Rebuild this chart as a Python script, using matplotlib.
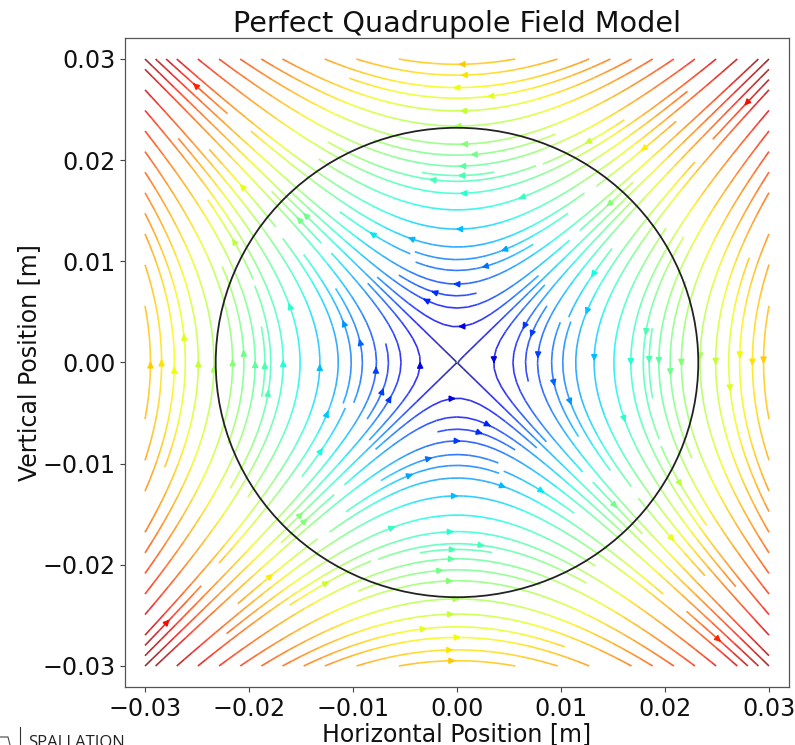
import numpy as np
import matplotlib
matplotlib.use("Agg")
import matplotlib.pyplot as plt
from matplotlib.patches import Circle

# Perfect quadrupole: the grid, the pipe radius and the ticks
grid_min = -0.03
grid_max = 0.03
grid_n = 31
gradient = -1.0
aperture_radius = 0.0232
ticks = [-0.03, -0.02, -0.01, 0.0, 0.01, 0.02, 0.03]
tick_labels = ["\u22120.03", "\u22120.02", "\u22120.01", "0.00", "0.01", "0.02", "0.03"]
title = "Perfect Quadrupole Field Model"
xlabel = "Horizontal Position [m]"
ylabel = "Vertical Position [m]"

W, H = 795, 745
fig = plt.figure(figsize=(W / 100, H / 100), dpi=100)
L, R, T, B = 125, 789, 38, 687
ax = fig.add_axes([L / W, 1 - B / H, (R - L) / W, (B - T) / H])

x = np.linspace(grid_min, grid_max, grid_n)
y = np.linspace(grid_min, grid_max, grid_n)
X, Y = np.meshgrid(x, y)
Bx = gradient * Y
By = gradient * X
mag = np.hypot(Bx, By)
sp = ax.streamplot(x, y, Bx, By, color=mag, cmap="jet", density=2.0, linewidth=1.2, arrowsize=0.85)
sp.lines.set_alpha(0.8)
# The reference shows no arrowhead on the crossing at the field's null
for p in list(ax.patches):
    tail = p._posA_posB[0]
    if np.hypot(tail[0], tail[1]) < 0.0015:
        p.remove()
ax.add_patch(Circle((0, 0), aperture_radius, fill=False, ec="#222222", lw=1.3, zorder=5))

px = 0.06 / 624
ax.set_xlim(-0.03 - 20 * px, 0.03 + 20 * px)
py = 0.06 / 607
ax.set_ylim(-0.03 - 21 * py, 0.03 + 21 * py)
ax.set_xticks(ticks)
ax.set_xticklabels(tick_labels)
ax.set_yticks(ticks)
ax.set_yticklabels(tick_labels)
ax.tick_params(labelsize=17.1, color="#444444", length=3.5, pad=3.5, labelcolor="#111111")
for s in ax.spines.values():
    s.set_color("#555555")
    s.set_linewidth(0.9)
ax.set_title(title, fontsize=20.6, pad=3, color="#111111")
ax.set_xlabel(xlabel, fontsize=17, labelpad=1, color="#111111")
ax.set_ylabel(ylabel, fontsize=17, labelpad=1, color="#111111")

fig.text(28 / W, 1 - 735 / H, "SPALLATION", fontsize=12, family="Open Sans", color="#222222", va="top", ha="left")
fig.add_artist(plt.Line2D([20 / W, 20 / W], [1 - 727 / H, 0], color="#333333", lw=0.8))
fig.add_artist(plt.Line2D([0, 8 / W, 10 / W], [1 - 737 / H, 1 - 737 / H, 1 - 745 / H], color="#444444", lw=0.8))
fig.savefig("out.png", dpi=100)
